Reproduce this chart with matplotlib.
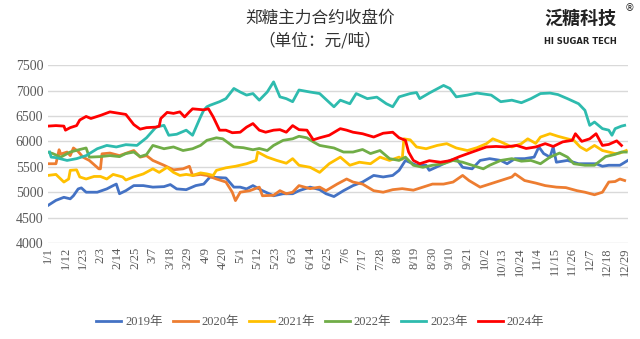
import matplotlib.pyplot as plt

plt.rcParams['font.family'] = ['Liberation Serif', 'Noto Sans CJK SC']

# day-of-year positions (0 = 1/1) and closing prices
d2019 = [0,5,10,14,16,19,21,24,31,37,41,43,45,49,54,60,66,73,77,81,87,93,98,102,106,112,117,121,125,129,135,142,148,154,158,165,171,175,180,186,192,198,205,211,217,221,225,232,238,240,247,253,257,261,267,272,278,285,289,294,300,306,309,312,316,318,320,327,334,339,345,349,353,360,365]
v2019 = [4740,4840,4900,4870,4930,5065,5085,5000,5000,5065,5130,5160,4970,5030,5130,5130,5100,5110,5150,5065,5050,5130,5160,5300,5290,5280,5100,5100,5065,5130,5030,4930,4970,4970,5030,5100,5050,4970,4915,5030,5130,5200,5330,5300,5330,5430,5625,5530,5530,5430,5530,5625,5660,5490,5460,5625,5660,5625,5560,5660,5660,5690,5890,5760,5690,5890,5590,5625,5560,5560,5560,5510,5530,5530,5625]

d2020 = [0,5,7,8,12,14,16,19,22,26,32,33,34,39,45,54,58,62,66,73,79,85,89,91,96,100,106,112,116,118,121,127,133,135,142,146,150,154,158,165,171,175,182,188,192,198,205,211,217,223,230,236,242,249,255,261,265,272,278,285,292,294,300,307,313,320,326,333,338,344,349,353,357,360,363]
v2020 = [5560,5560,5835,5750,5790,5720,5870,5800,5690,5625,5460,5460,5755,5770,5720,5820,5690,5720,5625,5530,5440,5460,5510,5330,5350,5330,5260,5200,5000,4835,5000,5030,5100,4930,4940,5030,4970,5000,5130,5070,5100,5030,5160,5260,5200,5160,5030,5000,5050,5070,5040,5100,5160,5160,5200,5330,5230,5100,5160,5230,5300,5360,5230,5180,5130,5100,5090,5030,5000,4950,5000,5200,5210,5260,5230]

d2021 = [0,5,9,10,13,14,18,20,24,29,33,37,41,47,49,54,60,66,70,75,79,83,87,91,96,100,104,106,112,118,125,131,132,138,144,150,154,158,165,171,177,184,190,196,203,209,215,221,223,224,228,232,238,245,251,257,264,270,276,280,285,292,298,302,307,310,316,321,327,331,335,339,344,349,353,357,360,364]
v2021 = [5330,5350,5230,5200,5260,5430,5440,5300,5260,5310,5310,5260,5350,5300,5240,5300,5360,5460,5390,5490,5390,5330,5350,5330,5380,5360,5330,5430,5480,5510,5560,5625,5790,5690,5625,5570,5660,5530,5490,5390,5560,5690,5530,5590,5560,5690,5625,5690,5650,6050,6030,5890,5855,5920,5955,5870,5820,5875,5955,6050,5990,5890,5955,6050,5960,6085,6150,6100,6050,6020,5890,5820,5920,5820,5790,5760,5770,5820]

d2022 = [0,3,8,14,20,24,26,33,39,45,49,54,58,62,66,73,79,85,91,96,100,106,110,117,123,129,133,138,142,148,154,158,163,167,171,180,186,192,198,203,209,215,221,225,230,236,242,249,255,261,267,274,278,285,292,298,304,310,316,322,327,331,338,344,351,357,361,364]
v2022 = [5790,5760,5690,5790,5840,5870,5690,5700,5720,5700,5760,5790,5700,5740,5920,5855,5890,5820,5855,5920,6020,6070,6050,5890,5875,5835,5860,5820,5920,6020,6050,6100,6070,5990,5920,5870,5790,5790,5840,5760,5820,5660,5625,5690,5530,5490,5530,5560,5625,5590,5530,5460,5530,5625,5660,5610,5625,5560,5690,5770,5690,5560,5530,5530,5700,5745,5790,5790]

d2023 = [1,2,5,12,18,24,31,37,43,49,56,62,68,73,76,81,87,91,96,98,100,102,108,112,117,121,125,129,133,138,142,146,150,154,158,165,171,180,184,190,194,201,207,213,217,221,228,232,234,240,249,253,257,264,270,279,285,292,298,304,310,316,321,327,334,338,341,344,349,353,355,357,361,363]
v2023 = [5790,5690,5680,5625,5660,5720,5855,5920,5890,5935,5920,6070,6280,6315,6120,6140,6220,6120,6480,6610,6680,6710,6780,6840,7040,6970,6910,6940,6810,6970,7170,6875,6840,6780,7010,6970,6940,6680,6810,6740,6940,6840,6870,6740,6680,6875,6940,6960,6840,6950,7100,7040,6875,6910,6950,6910,6780,6810,6760,6840,6940,6950,6920,6840,6740,6610,6315,6380,6250,6220,6120,6250,6300,6315]

d2024 = [0,5,10,11,14,18,20,24,27,33,39,49,54,58,62,68,70,71,75,79,83,86,89,91,98,101,104,108,112,116,121,125,129,133,137,142,146,150,154,158,163,167,171,177,184,188,192,198,205,211,217,221,225,227,230,234,240,247,253,259,267,276,282,288,295,301,307,313,318,324,330,332,336,341,345,349,353,358,361]
v2024 = [6300,6310,6300,6220,6270,6310,6420,6490,6450,6510,6580,6530,6330,6240,6270,6280,6300,6450,6570,6550,6580,6480,6580,6640,6620,6640,6480,6220,6220,6170,6180,6280,6350,6220,6180,6220,6230,6180,6310,6230,6220,6030,6070,6120,6250,6220,6180,6150,6085,6160,6180,6070,6020,5790,5625,5560,5620,5590,5620,5700,5790,5890,5900,5890,5920,5860,5890,5955,5900,5990,6020,6150,6000,6050,6150,5920,5940,6010,5920]

tick_labels = ['1/1','1/12','1/23','2/3','2/14','2/25','3/7','3/18','3/29','4/9','4/20','5/1',
               '5/12','5/23','6/3','6/14','6/25','7/6','7/17','7/28','8/8','8/19','8/30','9/10',
               '9/21','10/2','10/13','10/24','11/4','11/15','11/26','12/7','12/18','12/29']
tick_pos = [11 * i for i in range(len(tick_labels))]

series = [(d2019, v2019, '2019年', '#4472C4'),
          (d2020, v2020, '2020年', '#ED7D31'),
          (d2021, v2021, '2021年', '#FFC000'),
          (d2022, v2022, '2022年', '#70AD47'),
          (d2023, v2023, '2023年', '#2EBBAE'),
          (d2024, v2024, '2024年', '#FF0000')]

fig = plt.figure(figsize=(6.4, 3.39), dpi=100)
ax = fig.add_axes([0.075, 0.283, 0.906, 0.525])

for d, v, name, col in series:
    ax.plot(d, v, color=col, lw=2, label=name)

ax.set_xlim(0, 365)
ax.set_ylim(4000, 7500)
ax.set_yticks(range(4000, 7501, 500))
ax.set_xticks(tick_pos)
ax.set_xticklabels(tick_labels, rotation=90, fontsize=9, color='#595959')
ax.tick_params(axis='y', labelsize=10, colors='#595959', length=0)
ax.tick_params(axis='x', length=0, pad=3)
ax.grid(axis='y', color='#D9D9D9', lw=1)
ax.set_axisbelow(True)
for s in ax.spines.values():
    s.set_visible(False)

fig.text(0.5, 0.945, '郑糖主力合约收盘价', ha='center', va='center', fontsize=12,
         family='Noto Sans CJK SC', color='#333333')
fig.text(0.5, 0.88, '（单位：元/吨）', ha='center', va='center', fontsize=12,
         family='Noto Sans CJK SC', color='#333333')
fig.text(0.907, 0.945, '泛糖科技', ha='center', va='center', fontsize=13,
         family='Noto Sans CJK SC', weight='bold', color='#222222')
fig.text(0.907, 0.878, 'HI SUGAR TECH', ha='center', va='center', fontsize=6,
         family='DejaVu Sans', weight='bold', color='#222222')
fig.text(0.984, 0.975, '®', ha='center', va='center', fontsize=7,
         family='DejaVu Sans', color='#222222')

fig.legend(loc='center', bbox_to_anchor=(0.5, 0.05), ncol=6, frameon=False,
           fontsize=9, handlelength=2.0, handletextpad=0.3, columnspacing=0.8,
           labelcolor='#595959')

fig.savefig('out.png', dpi=100)
